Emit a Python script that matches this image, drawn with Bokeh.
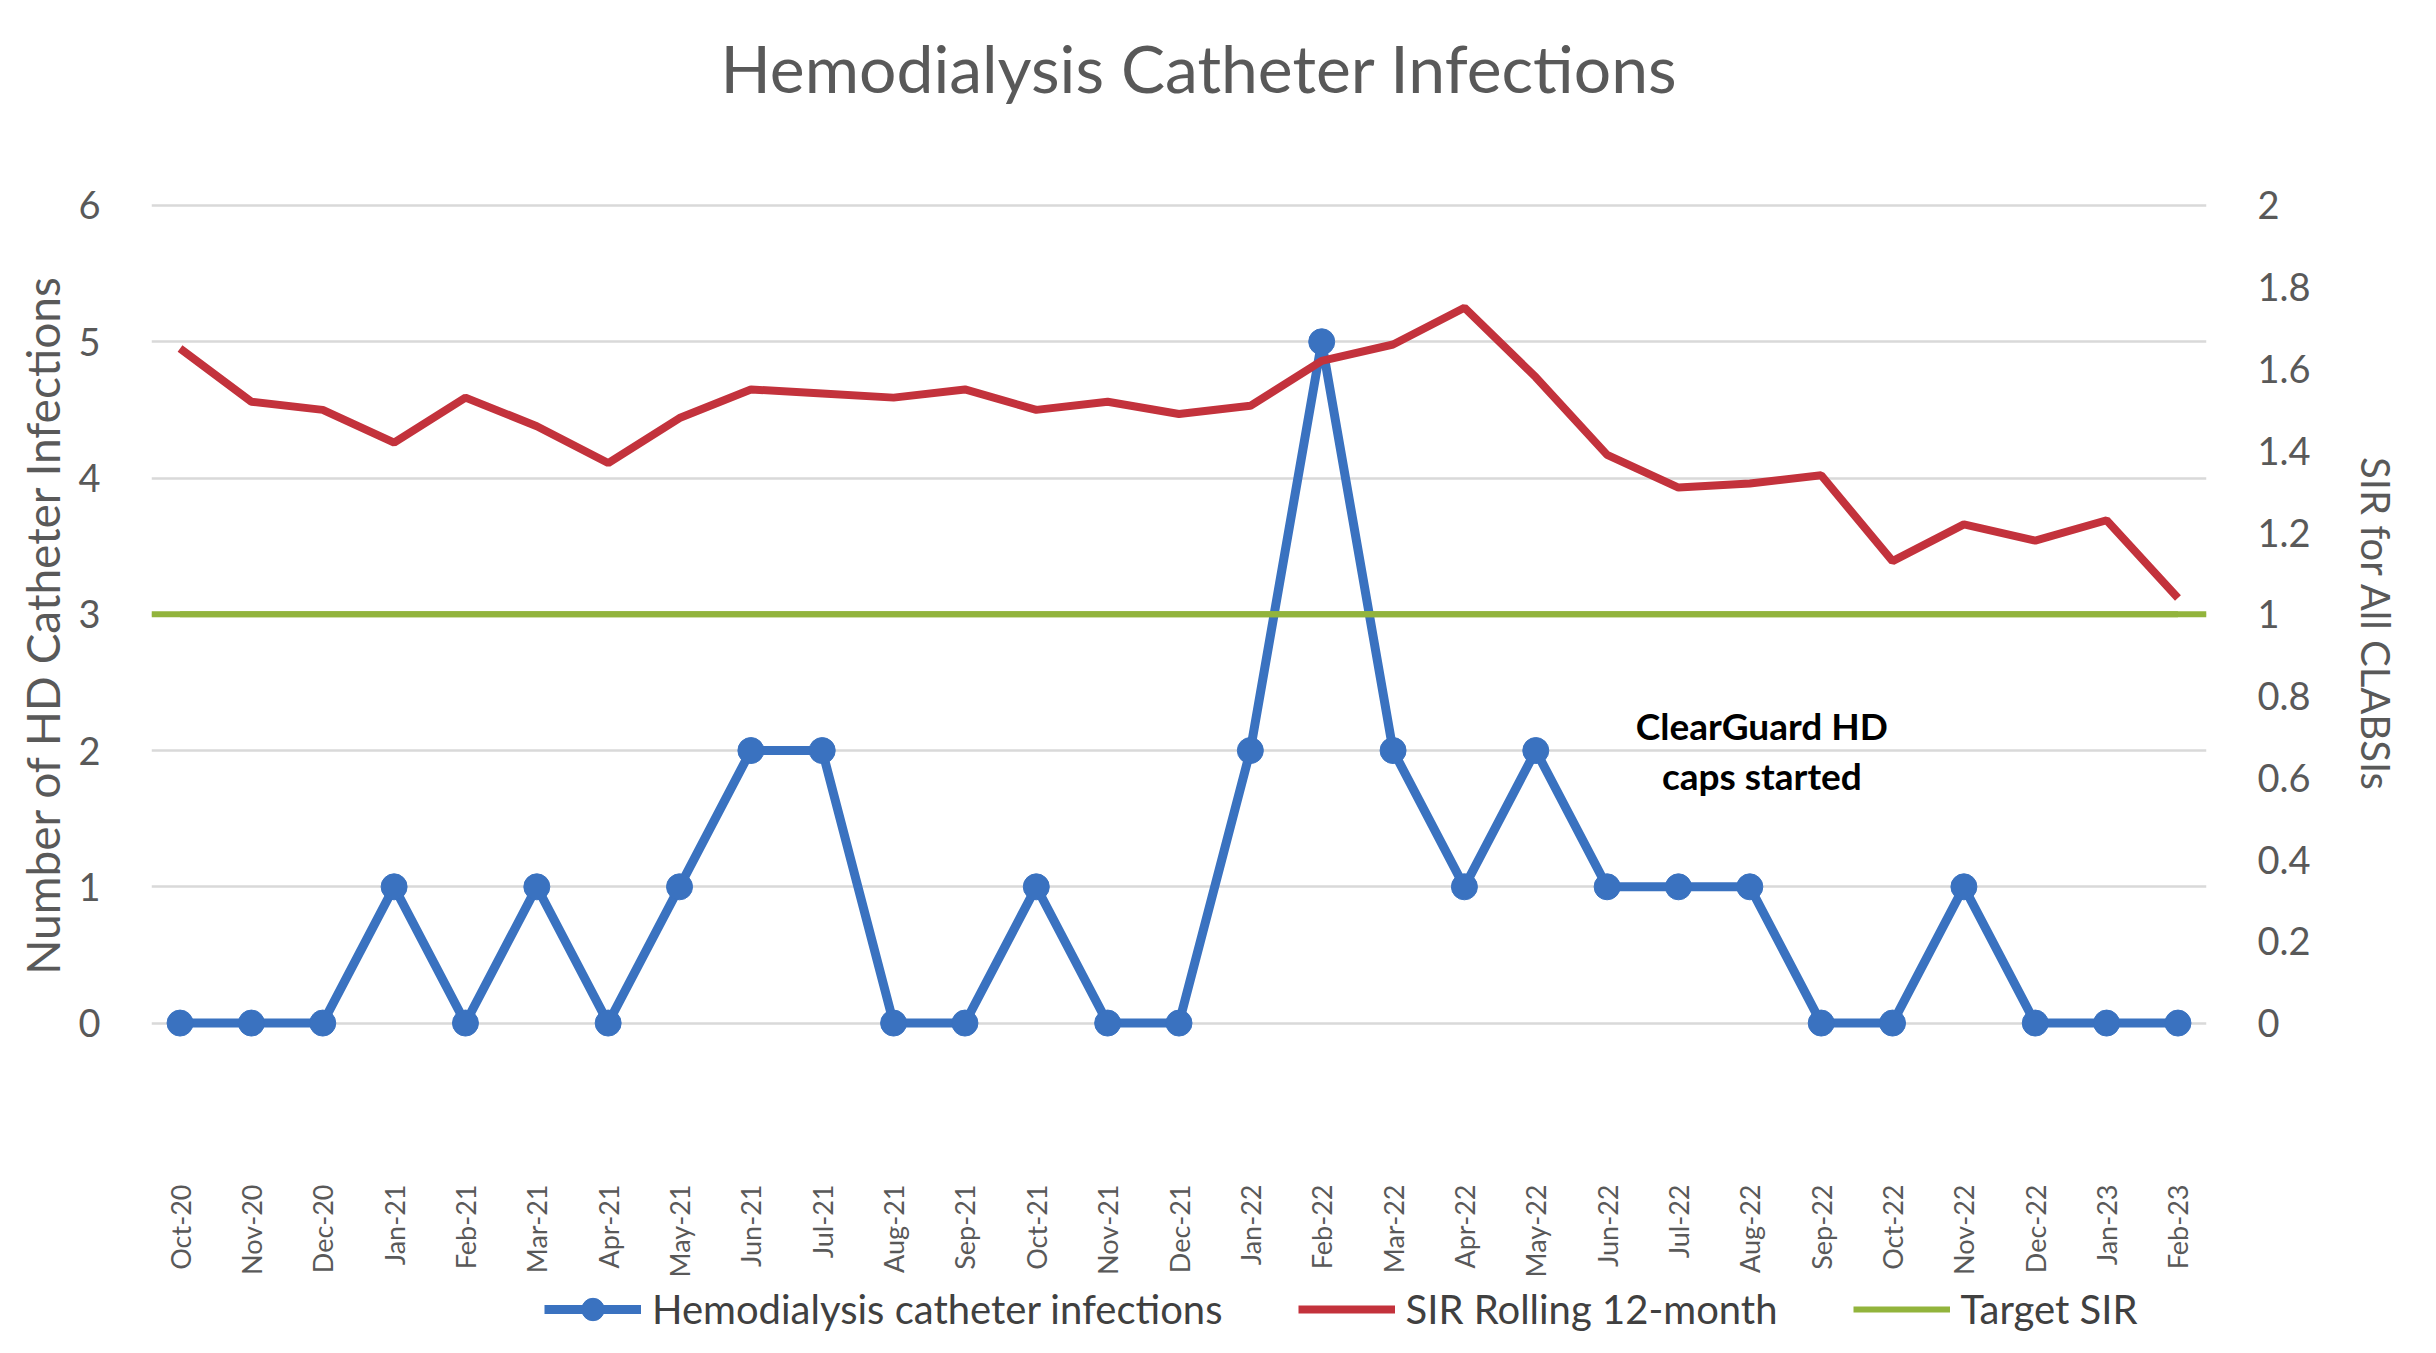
import math
from bokeh.plotting import figure
from bokeh.layouts import column
from bokeh.models import (FactorRange, Range1d, LinearAxis, FixedTicker, Legend,
                          LegendItem, Span, NumeralTickFormatter)
from bokeh.embed import file_html
from bokeh.resources import INLINE
from bokeh.core.properties import value

# ---------------- data ----------------
months = ["Oct-20", "Nov-20", "Dec-20", "Jan-21", "Feb-21", "Mar-21", "Apr-21",
          "May-21", "Jun-21", "Jul-21", "Aug-21", "Sep-21", "Oct-21", "Nov-21",
          "Dec-21", "Jan-22", "Feb-22", "Mar-22", "Apr-22", "May-22", "Jun-22",
          "Jul-22", "Aug-22", "Sep-22", "Oct-22", "Nov-22", "Dec-22", "Jan-23",
          "Feb-23"]
hd_infections = [0, 0, 0, 1, 0, 1, 0, 1, 2, 2, 0, 0, 1, 0, 0, 2, 5, 2, 1, 2,
                 1, 1, 1, 0, 0, 1, 0, 0, 0]
sir_rolling = [1.65, 1.52, 1.50, 1.42, 1.53, 1.46, 1.37, 1.48, 1.55, 1.54,
               1.53, 1.55, 1.50, 1.52, 1.49, 1.51, 1.62, 1.66, 1.75, 1.58,
               1.39, 1.31, 1.32, 1.34, 1.13, 1.22, 1.18, 1.23, 1.04]
target_sir_value = 1.0
target_sir = [target_sir_value for _ in months]
left_ticks = [0, 1, 2, 3, 4, 5, 6]
right_ticks = [0, 0.2, 0.4, 0.6, 0.8, 1.0, 1.2, 1.4, 1.6, 1.8, 2.0]
series_names = ["Hemodialysis catheter infections", "SIR Rolling 12-month",
                "Target SIR"]
annotation_text = "ClearGuard HD\ncaps started"
annotation_month = "Aug-22"
annotation_level = 2.0

BLUE = "#3A72C0"
RED = "#C3323C"
GREEN = "#92B43C"
GRAY_TXT = "#595959"
FONT = "Lato"

W = 2420
H_MAIN = 1280
H_LEG = 57

# ---------------- main figure ----------------
p = figure(width=W, height=H_MAIN,
           x_range=FactorRange(*months, range_padding=-0.1,
                               range_padding_units="absolute"),
           y_range=Range1d(-0.26, 6.11),
           output_backend="svg", toolbar_location=None,
           min_border_left=151, min_border_right=214,
           min_border_top=190, min_border_bottom=217)
p.extra_y_ranges = {"sir": Range1d(-0.26 / 3, 6.11 / 3)}
p.outline_line_color = None
p.background_fill_color = "white"

# trailing empty line lifts the title line away from the plot area
p.title.text = "Hemodialysis Catheter Infections\n"
p.title.text_font = FONT
p.title.text_font_size = "66px"
p.title.text_font_style = "normal"
p.title.text_color = GRAY_TXT
p.title.align = "left"
p.title.offset = 569
p.title.standoff = 10

# x axis
xa = p.xaxis[0]
xa.major_label_orientation = math.pi / 2
xa.major_label_standoff = 120
xa.axis_line_color = None
xa.major_tick_line_color = None
xa.minor_tick_line_color = None
xa.major_label_text_font = FONT
xa.major_label_text_font_size = "27px"
xa.major_label_text_color = GRAY_TXT

# left axis
ya = p.yaxis[0]
ya.ticker = FixedTicker(ticks=left_ticks)
ya.axis_label = "Number of HD Catheter Infections"
ya.axis_label_text_font = FONT
ya.axis_label_text_font_size = "46px"
ya.axis_label_text_font_style = "normal"
ya.axis_label_text_color = GRAY_TXT
ya.axis_label_standoff = 5
ya.major_label_standoff = 45
ya.major_label_text_font = FONT
ya.major_label_text_font_size = "38px"
ya.major_label_text_color = GRAY_TXT
ya.axis_line_color = None
ya.major_tick_line_color = None
ya.minor_tick_line_color = None

# right axis
ra = LinearAxis(y_range_name="sir", ticker=FixedTicker(ticks=right_ticks),
                formatter=NumeralTickFormatter(format="0.[0]"),
                axis_label="SIR for All CLABSIs")
ra.axis_label_text_font = FONT
ra.axis_label_text_font_size = "40px"
ra.axis_label_text_font_style = "normal"
ra.axis_label_text_color = GRAY_TXT
ra.axis_label_standoff = 38
ra.major_label_standoff = 45
ra.major_label_text_font = FONT
ra.major_label_text_font_size = "38px"
ra.major_label_text_color = GRAY_TXT
ra.axis_line_color = None
ra.major_tick_line_color = None
ra.minor_tick_line_color = None
p.add_layout(ra, "right")

# grid
p.xgrid.visible = False
p.ygrid[0].ticker = FixedTicker(ticks=left_ticks)
p.ygrid.grid_line_color = "#D9D9D9"
p.ygrid.grid_line_width = 2.5

# ---------------- series ----------------
p.line(months, hd_infections, line_color=BLUE, line_width=9)
p.scatter(months, hd_infections, size=26, fill_color=BLUE, line_color=BLUE)
p.line(months, sir_rolling, line_color=RED, line_width=8, y_range_name="sir")
p.line(months, target_sir, line_color=GREEN, line_width=6, y_range_name="sir")
p.add_layout(Span(location=target_sir_value, dimension="width",
                  y_range_name="sir", line_color=GREEN, line_width=6))

p.text(x=[annotation_month], y=[annotation_level], text=[annotation_text],
       x_offset=12,
       text_font=value(FONT), text_font_style="bold", text_font_size="37px",
       text_align="center", text_baseline="middle", text_color="black",
       text_line_height=1.13)

# ---------------- legend strip (below the chart) ----------------
lf = figure(width=W, height=H_LEG, x_range=Range1d(0, 1), y_range=Range1d(0, 1),
            x_axis_type=None, y_axis_type=None, output_backend="svg",
            toolbar_location=None, min_border=0)
lf.outline_line_color = None
lf.grid.visible = False
nan = float("nan")
# key-only renderers (a single undefined point, nothing drawn in the strip)
k_line = lf.line([nan], [nan], line_color=BLUE, line_width=9)
k_pts = lf.scatter([nan], [nan], size=26, fill_color=BLUE, line_color=BLUE)
r_line = lf.line([nan], [nan], line_color=RED, line_width=8)
g_line = lf.line([nan], [nan], line_color=GREEN, line_width=6)

legend = Legend(items=[
    LegendItem(label=series_names[0], renderers=[k_line, k_pts]),
    LegendItem(label=series_names[1], renderers=[r_line]),
    LegendItem(label=series_names[2], renderers=[g_line]),
], orientation="horizontal", location=(393, 0))
legend.border_line_color = None
legend.background_fill_alpha = 0
legend.glyph_width = 97
legend.glyph_height = 56
legend.label_text_font = FONT
legend.label_text_font_size = "40px"
legend.label_text_color = "#404040"
legend.label_standoff = 11
legend.spacing = 75
legend.padding = 0
legend.margin = 0
lf.add_layout(legend)

open("out.html", "w").write(file_html(column(p, lf, spacing=0), INLINE))
